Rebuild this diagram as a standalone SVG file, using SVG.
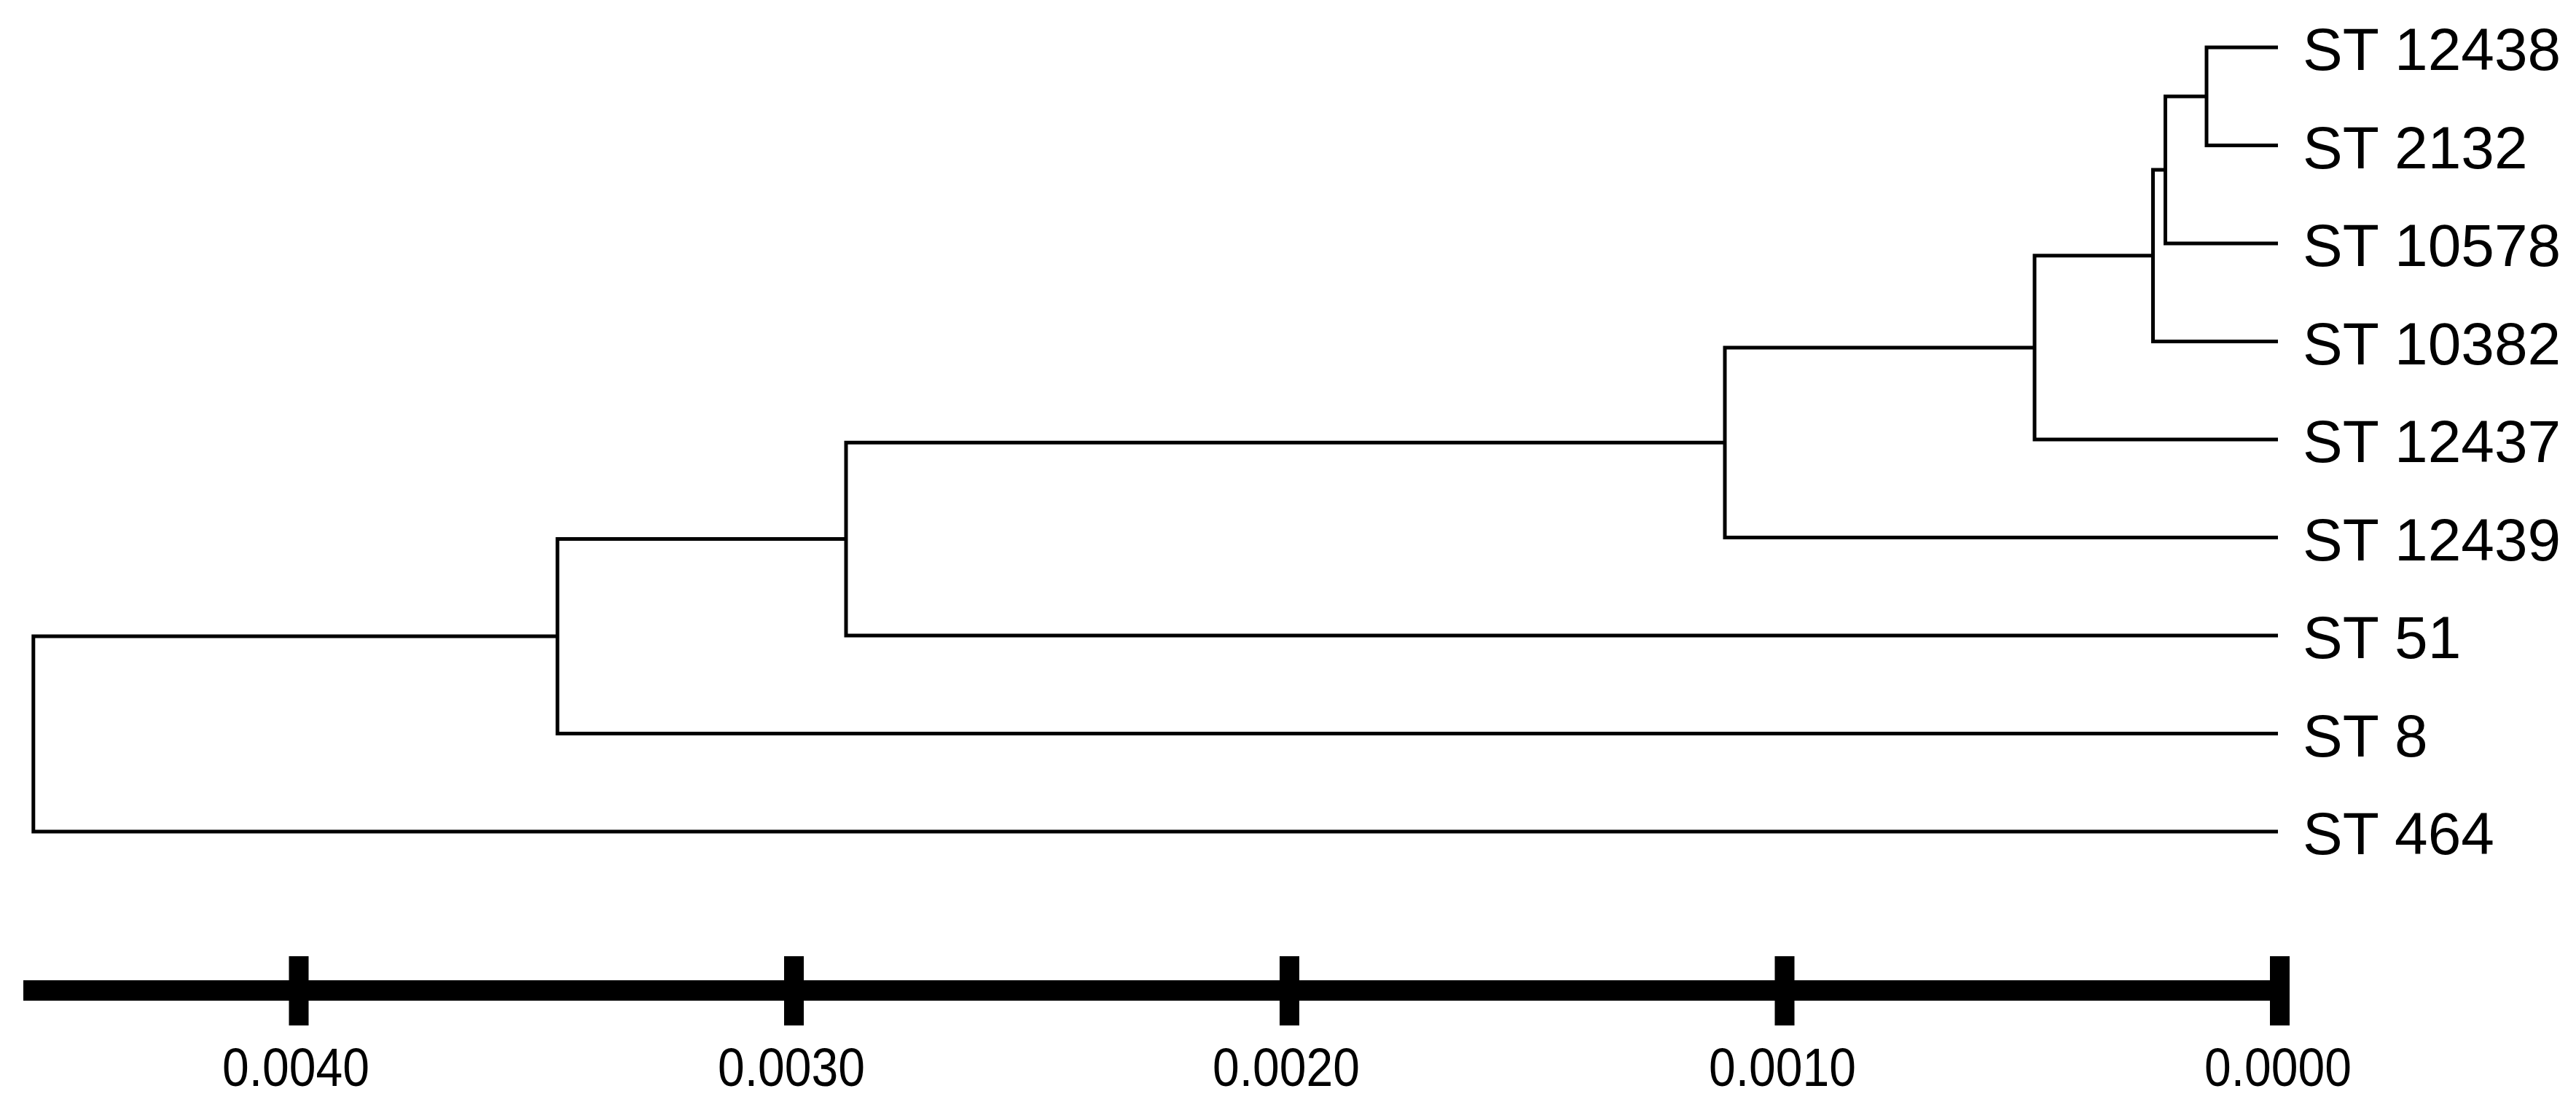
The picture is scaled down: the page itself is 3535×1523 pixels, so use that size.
<svg xmlns="http://www.w3.org/2000/svg" width="3535" height="1523" viewBox="0 0 3535 1523">
<style>
.br{fill:none;stroke:#000;stroke-width:5;stroke-linejoin:miter;stroke-linecap:butt}
.lb{font-family:"Liberation Sans",Arial,sans-serif;font-size:82px;fill:#000}
.sc{font-family:"Liberation Sans",Arial,sans-serif;font-size:74px;fill:#000;text-anchor:middle}
</style>
<rect width="3535" height="1523" fill="#fff"/>
<g id="connectors">
<path class="br" d="M3126 65 H3028 V199.5 H3126"/>
<path class="br" d="M3028 132.25 H2971.5 V334 H3126"/>
<path class="br" d="M2971.5 233 H2954.5 V468.5 H3126"/>
<path class="br" d="M2954.5 350.75 H2792 V603 H3126"/>
<path class="br" d="M2792 476.9 H2367 V737.5 H3126"/>
<path class="br" d="M2367 607.2 H1161 V872 H3126"/>
<path class="br" d="M1161 739.6 H765 V1006.5 H3126"/>
<path class="br" d="M765 873 H45.8 V1141 H3126"/>
</g>
<g id="leaf-ST12438"><text class="lb" x="3160" y="96">ST 12438</text></g>
<g id="leaf-ST2132"><text class="lb" x="3160" y="230.5">ST 2132</text></g>
<g id="leaf-ST10578"><text class="lb" x="3160" y="365">ST 10578</text></g>
<g id="leaf-ST10382"><text class="lb" x="3160" y="499.5">ST 10382</text></g>
<g id="leaf-ST12437"><text class="lb" x="3160" y="634">ST 12437</text></g>
<g id="leaf-ST12439"><text class="lb" x="3160" y="768.5">ST 12439</text></g>
<g id="leaf-ST51"><text class="lb" x="3160" y="903">ST 51</text></g>
<g id="leaf-ST8"><text class="lb" x="3160" y="1037.5">ST 8</text></g>
<g id="leaf-ST464"><text class="lb" x="3160" y="1172">ST 464</text></g>
<g id="scale">
<rect x="32" y="1345" width="3110" height="28" fill="#000"/>
<rect x="396.5" y="1312" width="27" height="95" fill="#000"/>
<rect x="1076" y="1312" width="27" height="95" fill="#000"/>
<rect x="1756" y="1312" width="27" height="95" fill="#000"/>
<rect x="2435.5" y="1312" width="27" height="95" fill="#000"/>
<rect x="3115" y="1312" width="27" height="95" fill="#000"/>
<text class="sc" x="406" y="1490" textLength="202" lengthAdjust="spacingAndGlyphs">0.0040</text>
<text class="sc" x="1086" y="1490" textLength="202" lengthAdjust="spacingAndGlyphs">0.0030</text>
<text class="sc" x="1765" y="1490" textLength="202" lengthAdjust="spacingAndGlyphs">0.0020</text>
<text class="sc" x="2446" y="1490" textLength="202" lengthAdjust="spacingAndGlyphs">0.0010</text>
<text class="sc" x="3126" y="1490" textLength="202" lengthAdjust="spacingAndGlyphs">0.0000</text>
</g>
</svg>
